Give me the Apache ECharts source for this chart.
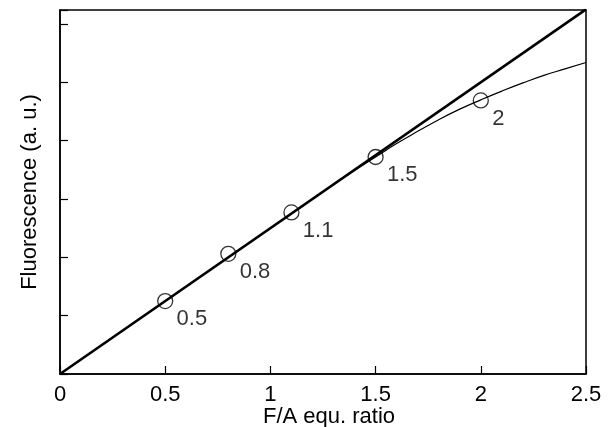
<!DOCTYPE html>
<html>
<head>
<meta charset="utf-8">
<script src="https://cdn.jsdelivr.net/npm/echarts@6/dist/echarts.min.js"></script>
<style>
html,body{margin:0;padding:0;background:#fff;}
#chart{width:616px;height:427px;}
</style>
</head>
<body>
<div id="chart"></div>
<script>
// Measured points (F/A equivalence ratio, fluorescence)
var pointX = [0.5, 0.8, 1.1, 1.5, 2.0];
var pointY = [1.25, 2.06, 2.77, 3.72, 4.69];
var pointLabels = ['0.5', '0.8', '1.1', '1.5', '2'];

// Linear reference line
var lineX = [0, 2.5];
var lineY = [0, 6.25];

// Saturating fitted curve
var curveX = [0, 0.5, 1.0, 1.2, 1.3, 1.4, 1.5, 1.6, 1.7, 1.8, 1.9, 2.0, 2.1, 2.2, 2.3, 2.4, 2.5];
var curveY = [0, 1.25, 2.5, 3.0, 3.25, 3.49, 3.72, 3.95, 4.16, 4.36, 4.54, 4.70, 4.85, 4.99, 5.12, 5.23, 5.34];

var xTicks = [0, 0.5, 1, 1.5, 2, 2.5];

function zip(a, b) { return a.map(function (v, i) { return [v, b[i]]; }); }

var chart = echarts.init(document.getElementById('chart'), null, {renderer: 'canvas'});
var font = 'Liberation Sans, Arial, sans-serif';
chart.setOption({
  animation: false,
  backgroundColor: '#fff',
  grid: {left: 60, right: 30, top: 10, bottom: 53, show: true, borderColor: '#000', borderWidth: 1.5,
         containLabel: false, outerBoundsMode: 'none'},
  xAxis: {
    type: 'value', min: 0, max: 2.5, interval: 0.5,
    name: 'F/A equ. ratio', nameLocation: 'middle', nameGap: 32, nameMoveOverlap: false,
    nameTextStyle: {fontFamily: font, fontSize: 22, color: '#000', padding: [0, 0, 0, 12]},
    axisLine: {show: true, lineStyle: {color: '#000', width: 1.5}},
    axisTick: {show: true, inside: true, length: 8, lineStyle: {color: '#000', width: 1.2}},
    axisLabel: {margin: 10, fontFamily: font, fontSize: 22, color: '#000',
      formatter: function (v) { return xTicks.indexOf(v) >= 0 ? String(v) : ''; }},
    splitLine: {show: false}
  },
  yAxis: {
    type: 'value', min: 0, max: 6.24, interval: 1,
    name: 'Fluorescence (a. u.)', nameLocation: 'middle', nameGap: 19, nameRotate: 90, nameMoveOverlap: false,
    nameTextStyle: {fontFamily: font, fontSize: 22, color: '#000'},
    axisLine: {show: true, lineStyle: {color: '#000', width: 1.5}},
    axisTick: {show: true, inside: true, length: 8, lineStyle: {color: '#000', width: 1.2}},
    axisLabel: {show: false},
    splitLine: {show: false}
  },
  series: [
    {
      type: 'line', data: zip(curveX, curveY), smooth: true, symbol: 'none',
      lineStyle: {color: '#000', width: 1.2}, z: 2
    },
    {
      type: 'line', data: zip(lineX, lineY), symbol: 'none', clip: true,
      lineStyle: {color: '#000', width: 2.6}, z: 3
    },
    {
      type: 'scatter', data: zip(pointX, pointY), symbol: 'circle', symbolSize: 15,
      itemStyle: {color: 'rgba(0,0,0,0)', borderColor: '#000', borderWidth: 1.3}, z: 4,
      label: {
        show: true, position: [19.5, 26.5], align: 'left', verticalAlign: 'middle',
        fontFamily: font, fontSize: 22, color: '#000',
        formatter: function (p) { return pointLabels[p.dataIndex]; }
      }
    }
  ]
});
</script>
</body>
</html>
